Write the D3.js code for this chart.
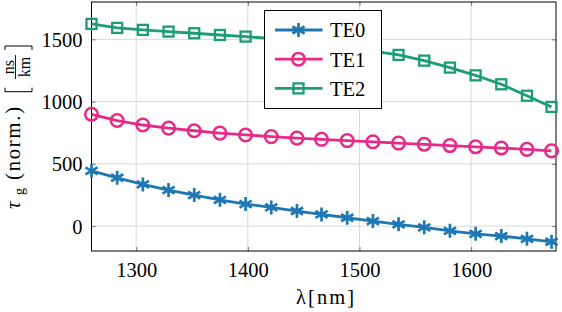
<!DOCTYPE html>
<html>
<head>
<meta charset="utf-8">
<script src="https://cdn.jsdelivr.net/npm/d3@7"></script>
<style>
  body { margin: 0; background: #fff; }
</style>
</head>
<body>
<svg id="chart" width="562" height="312"></svg>
<script>
// wavelength in nm
var lambda = [1260, 1283, 1306, 1329, 1352, 1375, 1398, 1421, 1444, 1466, 1489, 1512, 1535, 1558, 1581, 1604, 1627, 1650, 1672];
var te0 = [444, 388, 335, 289, 249, 211, 177, 150, 121, 94, 67, 40, 14, -10, -38, -62, -80, -102, -126];
var te1 = [898, 848, 812, 787, 766, 747, 732, 719, 707, 697, 687, 677, 667, 657, 647, 637, 627, 616, 604];
var te2 = [1624, 1592, 1576, 1562, 1549, 1535, 1522, 1507, 1487, 1462, 1435, 1406, 1375, 1329, 1273, 1211, 1139, 1047, 957];
var seriesNames = ["TE0", "TE1", "TE2"];
var xTicks = [1300, 1400, 1500, 1600];
var yTicks = [0, 500, 1000, 1500];

var colors = ["#1f78b4", "#e7298a", "#1b9e77"];
var markers = ["asterisk", "circle", "square"];
var serif = '"Liberation Serif", "Times New Roman", Times, Tinos, "Noto Serif", "DejaVu Serif", serif';
var fs = 20.5;

const mLeft = 91.5, mRight = 556, mTop = 2, mBottom = 251;

var svg = d3.select('#chart');

var x = d3.scaleLinear().domain([1260, 1676]).range([mLeft, mRight]);
var y = d3.scaleLinear().domain([-200, 1800]).range([mBottom, mTop]);

// grid
var grid = svg.append('g').attr('stroke', '#d9d9d9').attr('stroke-width', 1);
grid.selectAll('.gx').data(xTicks).enter().append('line')
  .attr('x1', d => x(d)).attr('x2', d => x(d))
  .attr('y1', mTop).attr('y2', mBottom);
grid.selectAll('.gy').data(yTicks).enter().append('line')
  .attr('x1', mLeft).attr('x2', mRight)
  .attr('y1', d => y(d)).attr('y2', d => y(d));

// axes (ticks inside, on both sides)
var xAxis = svg.append('g')
  .attr('transform', `translate(0,${mBottom})`)
  .call(d3.axisBottom(x).tickValues(xTicks).tickSize(-4).tickPadding(11).tickFormat(d3.format('d')));
var xAxisTop = svg.append('g')
  .attr('transform', `translate(0,${mTop})`)
  .call(d3.axisTop(x).tickValues(xTicks).tickSize(-4).tickFormat(''));
var yAxis = svg.append('g')
  .attr('transform', `translate(${mLeft},0)`)
  .call(d3.axisLeft(y).tickValues(yTicks).tickSize(-4).tickPadding(9).tickFormat(d3.format('d')));
var yAxisRight = svg.append('g')
  .attr('transform', `translate(${mRight},0)`)
  .call(d3.axisRight(y).tickValues(yTicks).tickSize(-4).tickFormat(''));

[xAxis, xAxisTop, yAxis, yAxisRight].forEach(a => {
  a.attr('font-family', null).attr('font-size', null);
  a.select('.domain').remove();
  a.selectAll('line').attr('stroke', '#555').attr('stroke-width', 0.8);
  a.selectAll('text').attr('font-size', fs).attr('fill', '#000');
});
yAxis.selectAll('text').attr('dy', '0.34em');
xAxis.selectAll('text').attr('dy', '0.71em');

// frame
svg.append('rect')
  .attr('x', mLeft).attr('y', mTop)
  .attr('width', mRight - mLeft).attr('height', mBottom - mTop)
  .attr('fill', 'none').attr('stroke', '#000').attr('stroke-width', 1);

function drawMarker(g, type, color) {
  if (type === 'asterisk') {
    g.append('path')
      .attr('d', 'M0,-7L0,7M-6.1,-3.5L6.1,3.5M-6.1,3.5L6.1,-3.5')
      .attr('stroke', color).attr('stroke-width', 2.7).attr('fill', 'none');
  } else if (type === 'circle') {
    g.append('circle').attr('r', 6.3)
      .attr('stroke', color).attr('stroke-width', 2.5).attr('fill', 'none');
  } else {
    g.append('rect').attr('x', -5).attr('y', -5).attr('width', 10).attr('height', 10)
      .attr('stroke', color).attr('stroke-width', 2.3).attr('fill', 'none');
  }
}

var line = d3.line()
  .x(d => x(d.l))
  .y(d => y(d.v));

var allSeries = [te0, te1, te2];
allSeries.forEach((vals, k) => {
  var pts = vals.map((v, i) => ({l: lambda[i], v: v}));
  svg.append('path')
    .datum(pts)
    .attr('fill', 'none')
    .attr('stroke', colors[k])
    .attr('stroke-width', 2.8)
    .attr('stroke-linejoin', 'round')
    .attr('d', line);
  svg.selectAll('.m' + k).data(pts).enter().append('g')
    .attr('class', 'm' + k)
    .attr('transform', d => `translate(${x(d.l)},${y(d.v)})`)
    .each(function() { drawMarker(d3.select(this), markers[k], colors[k]); });
});

// legend
var legend = svg.append('g');
legend.append('rect')
  .attr('x', 264.5).attr('y', 10.5).attr('width', 117).attr('height', 98)
  .attr('fill', '#fff').attr('stroke', '#000').attr('stroke-width', 1);
seriesNames.forEach((name, k) => {
  var ly = 30 + k * 29.2;
  legend.append('line')
    .attr('x1', 275).attr('x2', 322.5).attr('y1', ly).attr('y2', ly)
    .attr('stroke', colors[k]).attr('stroke-width', 2.8);
  var mg = legend.append('g').attr('transform', `translate(298.5,${ly})`);
  drawMarker(mg, markers[k], colors[k]);
  legend.append('text')
    .attr('x', 330).attr('y', ly + 7.3)
    .attr('font-size', fs)
    .text(name);
});

// x label
svg.append('text')
  .attr('x', 325).attr('y', 304)
  .attr('text-anchor', 'middle')
  .attr('font-size', fs)
  .attr('textLength', 58).attr('lengthAdjust', 'spacing')
  .text('λ[nm]');

// y label, rotated; local x runs upward, baseline at local y = 0
var yl = svg.append('g').attr('transform', 'translate(20,210) rotate(-90)');
yl.append('text').attr('x', 1).attr('y', 0).attr('font-size', fs)
  .attr('font-style', 'italic').text('τ');
yl.append('text').attr('x', 15).attr('y', 4).attr('font-size', 14).text('g');
yl.append('text').attr('x', 30).attr('y', 0).attr('font-size', fs)
  .attr('textLength', 73).attr('lengthAdjust', 'spacing').text('(norm.)');
yl.append('path')
  .attr('d', 'M122.3,-15L118.3,-15L118.3,12L122.3,12M160,-15L164,-15L164,12L160,12')
  .attr('fill', 'none').attr('stroke', '#000').attr('stroke-width', 1);
yl.append('line').attr('x1', 131).attr('x2', 155).attr('y1', -4.5).attr('y2', -4.5)
  .attr('stroke', '#000').attr('stroke-width', 0.9);
yl.append('text').attr('x', 143).attr('y', -6.5).attr('font-size', 16)
  .attr('text-anchor', 'middle').text('ns');
yl.append('text').attr('x', 143).attr('y', 9.5).attr('font-size', 16)
  .attr('text-anchor', 'middle').text('km');

// serif font on every text, set inline
svg.selectAll('text').style('font-family', serif).style('fill', '#000');
</script>
</body>
</html>
